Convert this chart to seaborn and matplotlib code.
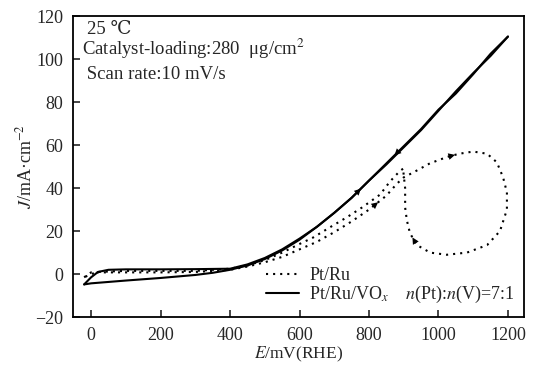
import numpy as np
import pandas as pd
import matplotlib
matplotlib.use("Agg")
import matplotlib.pyplot as plt
import seaborn as sns

# ---------------- data ----------------
# Pt/Ru/VOx (solid): forward scan
vox_fwd_E = [-20, 0, 100, 200, 300, 350, 400, 450, 500, 550, 600, 650, 700, 750,
             800, 850, 900, 950, 1000, 1050, 1100, 1150, 1200]
vox_fwd_J = [-4.8, -4.3, -3.0, -1.8, -0.4, 0.6, 2.0, 4.0, 7.0, 11.0, 16.0, 22.0, 28.5, 35.5,
             43.5, 51.0, 59.0, 67.0, 76.0, 85.0, 93.5, 101.5, 110.5]
# Pt/Ru/VOx (solid): reverse scan
vox_rev_E = [1200, 1150, 1100, 1050, 1000, 950, 900, 850, 800, 750, 700, 650, 600, 550,
             500, 450, 400, 300, 200, 100, 50, 20, 0, -20]
vox_rev_J = [110.5, 102.5, 93.0, 84.0, 76.5, 67.5, 59.5, 51.5, 43.5, 35.5, 28.5, 22.0, 16.5, 11.5,
             7.5, 4.5, 2.5, 2.3, 2.2, 2.2, 2.0, 1.0, -1.5, -4.8]

# Pt/Ru (dotted): forward scan including oscillation loop
ptru_fwd_E = [-20, 0, 100, 200, 300, 400, 450, 500, 550, 600, 650, 700, 750, 800, 850, 880,
              900, 930, 975, 1025, 1060, 1100, 1140, 1168, 1186, 1197, 1197, 1177, 1140, 1082,
              1024, 976, 938, 918, 909, 904, 904, 898]
ptru_fwd_J = [-1.5, 0.8, 0.8, 0.8, 1.0, 2.0, 3.5, 5.5, 8.0, 11.5, 15.0, 19.5, 24.5, 30.0, 36.5, 42.0,
              45.0, 47.5, 51.5, 54.5, 56.0, 57.0, 56.0, 52.0, 45.0, 38.0, 30.0, 20.0, 13.5, 10.0,
              9.0, 10.0, 13.5, 19.0, 25.0, 31.0, 40.0, 49.0]
# Pt/Ru (dotted): reverse scan
ptru_rev_E = [898, 889, 860, 832, 780, 737, 690, 639, 600, 550, 500, 450, 400, 300, 200, 100, 20, 0, -20]
ptru_rev_J = [49.0, 48.0, 43.0, 37.0, 31.0, 26.5, 22.0, 17.0, 14.0, 10.0, 6.5, 4.0, 2.5, 1.5, 1.5, 1.5, 1.0, 0.0, -1.5]

legend_labels = ["Pt/Ru", "Pt/Ru/VO$_x$    $n$(Pt):$n$(V)=7:1"]
annot_lines = ["25 \u2103", "Catalyst-loading:280  \u03bcg/cm$^2$", " Scan rate:10 mV/s"]
x_ticks = [0, 200, 400, 600, 800, 1000, 1200]
y_ticks = [-20, 0, 20, 40, 60, 80, 100, 120]

# ---------------- frame ----------------
def seg(E, J, name, branch):
    return pd.DataFrame({"E": E, "J": J, "sample": name, "branch": branch,
                         "order": np.arange(len(E))})

df = pd.concat([
    seg(ptru_fwd_E, ptru_fwd_J, "Pt/Ru", "fwd"),
    seg(ptru_rev_E, ptru_rev_J, "Pt/Ru", "rev"),
    seg(vox_fwd_E, vox_fwd_J, "VOx", "fwd"),
    seg(vox_rev_E, vox_rev_J, "VOx", "rev"),
], ignore_index=True)

sns.set_theme(style="ticks")
plt.rcParams["font.family"] = ["Liberation Serif", "DejaVu Serif"]
plt.rcParams["mathtext.fontset"] = "stix"
plt.rcParams["axes.linewidth"] = 1.3

fig = plt.figure(figsize=(5.33, 3.67), dpi=100)
ax = fig.add_axes([0.137, 0.136, 0.846, 0.820])

DOT = (0, (1, 2.4))
for (name, branch), g in df.groupby(["sample", "branch"], sort=False):
    g = g.sort_values("order")
    if name == "Pt/Ru":
        sns.lineplot(x=g["E"].values, y=g["J"].values, sort=False, estimator=None, ax=ax,
                     color="black", lw=1.5, linestyle=DOT)
    else:
        sns.lineplot(x=g["E"].values, y=g["J"].values, sort=False, estimator=None, ax=ax,
                     color="black", lw=1.5, linestyle="-")

# arrowheads placed along the data paths
def arrow(E, J, i):
    a, b = i, i + 1
    xm = E[a] + 0.65 * (E[b] - E[a]); ym = J[a] + 0.65 * (J[b] - J[a])
    xs = E[a] + 0.3 * (E[b] - E[a]); ys = J[a] + 0.3 * (J[b] - J[a])
    ax.annotate("", xy=(xm, ym), xytext=(xs, ys),
                arrowprops=dict(arrowstyle="-|>", color="black", lw=0, mutation_scale=12))

arrow(ptru_fwd_E, ptru_fwd_J, 13)
arrow(ptru_fwd_E, ptru_fwd_J, 19)
arrow(ptru_fwd_E, ptru_fwd_J, 32)
arrow(vox_fwd_E, vox_fwd_J, 13)
arrow(vox_rev_E, vox_rev_J, 6)

ax.set_xlim(-52, 1246)
ax.set_ylim(-20, 120)
ax.set_xticks(x_ticks)
ax.set_yticks(y_ticks)
ax.tick_params(direction="in", length=5, width=1.2, labelsize=13, top=False, right=False, pad=7)
for s in ax.spines.values():
    s.set_visible(True)
    s.set_linewidth(1.3)
    s.set_color("black")

ax.set_xlabel("$E$/mV(RHE)", fontsize=12.5, labelpad=1)
ax.set_ylabel("$J$/mA\u00b7cm$^{-2}$", fontsize=13, labelpad=0)

# annotation text
ax.text(0.032, 0.985, annot_lines[0], transform=ax.transAxes, fontsize=13.5, va="top", ha="left")
ax.text(0.020, 0.932, annot_lines[1], transform=ax.transAxes, fontsize=13.5, va="top", ha="left")
ax.text(0.020, 0.835, annot_lines[2], transform=ax.transAxes, fontsize=13.5, va="top", ha="left")

# legend
from matplotlib.lines import Line2D
handles = [Line2D([], [], color="black", lw=1.5, linestyle=DOT),
           Line2D([], [], color="black", lw=1.5, linestyle="-")]
leg = ax.legend(handles, legend_labels, loc="lower right", frameon=False, fontsize=13,
                handlelength=1.85, handletextpad=0.55, labelspacing=0.0,
                borderaxespad=0.1, bbox_to_anchor=(1.0, 0.01))

fig.savefig("out.png", dpi=100)
